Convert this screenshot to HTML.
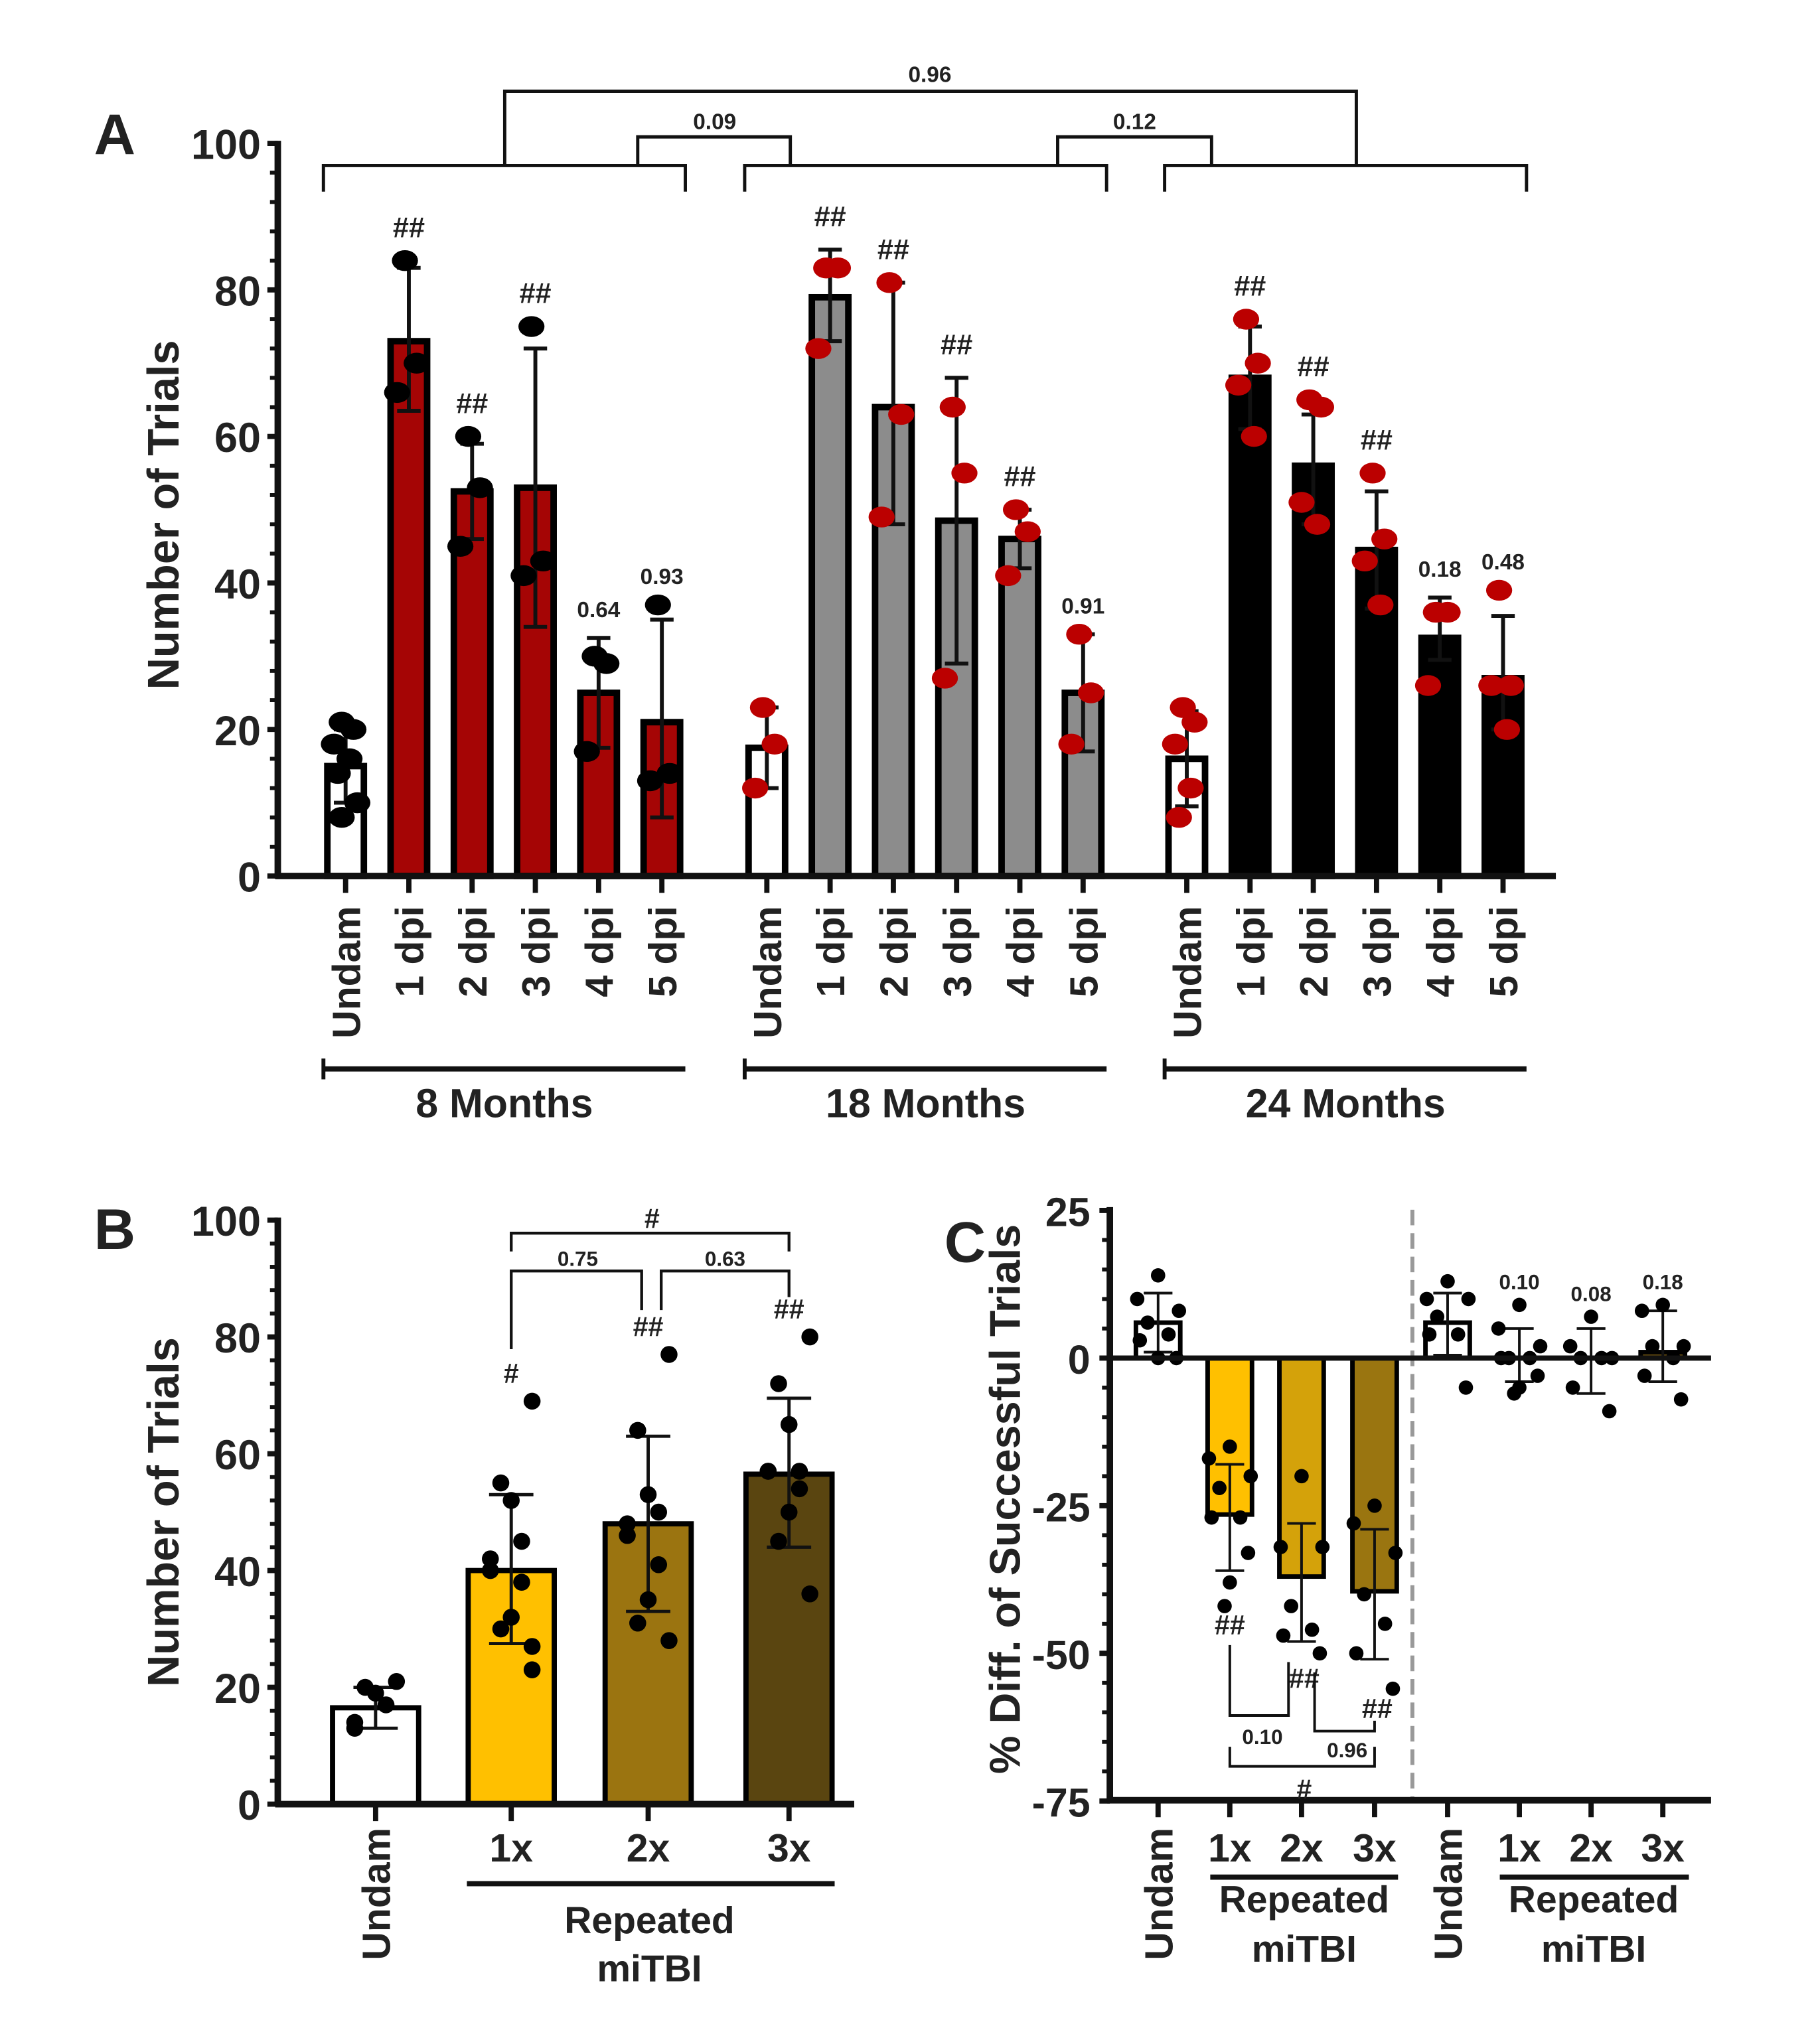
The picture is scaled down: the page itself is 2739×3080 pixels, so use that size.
<!DOCTYPE html>
<html><head><meta charset="utf-8"><style>
html,body{margin:0;padding:0;background:#fff;}
svg{display:block;font-family:"Liberation Sans",Arial,sans-serif;font-weight:bold;}
</style></head><body>
<svg id="fig" xmlns="http://www.w3.org/2000/svg" width="2739" height="3080" viewBox="0 0 1394 1568" preserveAspectRatio="none">
<rect width="1394" height="1568" fill="#fff"/>
</svg>
<script>
// ---- Panel A data ----
const aGroups = ["8 Months","18 Months","24 Months"];
const aCats = ["Undam","1 dpi","2 dpi","3 dpi","4 dpi","5 dpi"];
const aMeans = [[15,73,52.5,53,25,21],[17.5,79,64,48.5,46,25],[16,68,56,44.5,32.5,27]];
const aErrLo = [[10,63.5,46,34,17.5,8],[12,73,48,29,42,17],[9.5,61,48,36.5,29.5,20]];
const aErrHi = [[20,83,59,72,32.5,35],[23,85.5,81,68,50,33],[22.5,75,63,52.5,38,35.5]];
const aPts = [
 [[21,20,18,16,14,10,8],[84,70,66],[60,53,45],[75,43,41],[30,29,17],[37,14,13]],
 [[23,18,12],[83,83,72],[81,63,49],[64,55,27],[50,47,41],[33,25,18]],
 [[23,21,18,12,8],[76,70,67,60],[65,64,51,48],[55,46,43,37],[36,36,26],[39,26,26,20]]];
const aLabels = [["","##","##","##","0.64","0.93"],["","##","##","##","##","0.91"],["","##","##","##","0.18","0.48"]];
const aTicks = [0,20,40,60,80,100];
// ---- Panel B data ----
const bCats = ["Undam","1x","2x","3x"];
const bMeans = [16.5,40,48,56.5];
const bErrLo = [13,27.5,33,44];
const bErrHi = [20,53,63,69.5];
const bPts = [[21,20,19,17,14,13],[69,55,52,45,42,40,38,32,30,27,23],[77,64,53,50,48,46,41,35,31,28],[80,72,65,57,57,57,54,50,45,36]];
const bLabels = ["","#","##","##"];
const bTicks = [0,20,40,60,80,100];
// ---- Panel C data ----
const cCats = ["Undam","1x","2x","3x","Undam","1x","2x","3x"];
const cMeans = [6,-26.5,-37,-39.5,6,0,0,1];
const cErrLo = [1,-36,-48,-51,0.5,-4,-6,-4];
const cErrHi = [11,-18,-28,-29,11,5,5,8];
const cPts = [[14,10,8,6,4,3,0,0],[-15,-17,-20,-22,-27,-27,-33,-38,-42],[-20,-32,-32,-42,-46,-47,-50],[-25,-28,-33,-40,-45,-50,-56],
 [13,10,10,7,4,4,-5],[9,5,2,0,0,0,-3,-5,-6],[7,2,0,0,0,-5,-9],[9,8,2,2,0,-3,-7]];
const cLabels = ["","","","","","0.10","0.08","0.18"];
const cTicks = [25,0,-25,-50,-75];

const NS="http://www.w3.org/2000/svg";
const svg=document.getElementById('fig');
function mk(tag,at,par){const e=document.createElementNS(NS,tag);for(const k in at)e.setAttribute(k,at[k]);(par||svg).appendChild(e);return e;}
function txt(s,x,y,size,par,anchor,rot){const t=mk('text',{x:x,y:y,'font-size':size,'text-anchor':anchor||'middle',fill:'#222'},par);if(rot)t.setAttribute('transform','rotate(-90 '+x+' '+y+')');t.textContent=s;return t;}
function ln(x1,y1,x2,y2,w,par,col){return mk('line',{x1:x1,y1:y1,x2:x2,y2:y2,stroke:col||'#111','stroke-width':w},par);}
function jit(i,n){if(n<=1)return 0;return (i%2===0?-1:1)*((i%3)+1)*3;}

// ================= PANEL A =================
const gA=mk('g',{});


const yA=v=>672-v*5.62;
const aX0=[265,588,910], aStep=48.5;
const aFill=[['#fff','#a50505','#a50505','#a50505','#a50505','#a50505'],['#fff','#8c8c8c','#8c8c8c','#8c8c8c','#8c8c8c','#8c8c8c'],['#fff','#000','#000','#000','#000','#000']];
const aDot=['#000','#b00','#b00'];
let t=txt('A',88,118,44,gA);
t=txt('Number of Trials',137,395,34,gA,'middle',true);
for(let v=0;v<=100;v+=4){let l=ln(v%20===0?205:207,yA(v),213,yA(v),v%20===0?4:3,gA);}
aTicks.forEach(v=>{const e=txt(String(v),200,yA(v)+12,32,gA,'end');});
for(let g=0;g<3;g++){
 for(let i=0;i<6;i++){
  const cx=aX0[g]+i*aStep, m=aMeans[g][i];
  const r=mk('rect',{x:cx-14,y:yA(m),width:28,height:672-yA(m),fill:aFill[g][i],stroke:'#000','stroke-width':5},gA);
  
  
  const e1=ln(cx,yA(aErrLo[g][i]),cx,yA(aErrHi[g][i]),3,gA);
  ln(cx-9,yA(aErrHi[g][i]),cx+9,yA(aErrHi[g][i]),3,gA);ln(cx-9,yA(aErrLo[g][i]),cx+9,yA(aErrLo[g][i]),3,gA);
  aPts[g][i].forEach((p,k)=>{const d=mk('ellipse',{cx:cx+jit(k,aPts[g][i].length),cy:yA(p),rx:10,ry:8,fill:aDot[g]},gA);});
  const top=Math.max(aErrHi[g][i],...aPts[g][i]);
  if(aLabels[g][i]){const s=txt(aLabels[g][i],cx,yA(top)-(aLabels[g][i]==='##'?18:16),aLabels[g][i]==='##'?22:17,gA);}
  const tk=ln(cx,672,cx,685,4,gA);
  const xl=txt(aCats[i],cx+11,695,30,gA,'end',true);
 }
 const x1=aX0[g]-17,x2=aX0[g]+5*aStep+18;
 const gl=ln(x1,820,x2,820,4,gA);
 ln(x1,812,x1,828,3,gA);
 const gt=txt(aGroups[g],(x1+x2)/2,857,31,gA);
 const b=mk('path',{d:'M'+x1+' 147V127H'+x2+'V147',fill:'none',stroke:'#111','stroke-width':2.5},gA);
}
let ax=ln(213,108,213,674,5,gA);
ax=ln(211,672,1193,672,5,gA);
let br=mk('path',{d:'M489 127V105H606V127M811 127V105H929V127M387 127V70H1040V127',fill:'none',stroke:'#111','stroke-width':2.5},gA);
t=txt('0.09',548,99,17,gA);
t=txt('0.12',870,99,17,gA);
t=txt('0.96',713,63,17,gA);

// ================= PANEL B =================
const gB=mk('g',{});


const yB=v=>1384-v*4.48;
const bX=[288,392,497,605], bFill=['#fff','#ffc000','#9b7410','#5a4510'];
t=txt('B',88,958,44,gB);
t=txt('Number of Trials',137,1160,34,gB,'middle',true);
for(let v=0;v<=100;v+=4){let l=ln(v%20===0?205:207,yB(v),213,yB(v),v%20===0?4:3,gB);}
bTicks.forEach(v=>{const e=txt(String(v),200,yB(v)+12,32,gB,'end');});
bCats.forEach((c,i)=>{
 const cx=bX[i],m=bMeans[i];
 const r=mk('rect',{x:cx-33,y:yB(m),width:66,height:1384-yB(m),fill:bFill[i],stroke:'#000','stroke-width':4},gB);
 
 
 const e1=ln(cx,yB(bErrLo[i]),cx,yB(bErrHi[i]),2.5,gB);
 ln(cx-17,yB(bErrHi[i]),cx+17,yB(bErrHi[i]),2.5,gB);ln(cx-17,yB(bErrLo[i]),cx+17,yB(bErrLo[i]),2.5,gB);
 bPts[i].forEach((p,k)=>{const off=(k%5-2)*10*(k%2?1:-1)*0.8;const d=mk('circle',{cx:cx+off,cy:yB(p),r:6.5,fill:'#000'},gB);});
 if(bLabels[i]){const s=txt(bLabels[i],cx,yB(Math.max(...bPts[i]))-14,21,gB);}
 const tk=ln(cx,1384,cx,1397,4,gB);
 if(i===0){const xl=txt(c,cx+11,1402,30,gB,'end',true);}
 else{const xl=txt(c,cx,1428,30,gB);}
});
ax=ln(213,934,213,1386,5,gB);
ax=ln(211,1384,655,1384,5,gB);
t=ln(358,1445,640,1445,4,gB);
t=txt('Repeated',498,1483,29,gB);
t=txt('miTBI',498,1520,29,gB);
br=mk('path',{d:'M392 1035V975H492V1005M507 1005V975H605V995M392 960V946H605V960',fill:'none',stroke:'#111','stroke-width':2.2},gB);
t=txt('0.75',443,971,16,gB);
t=txt('0.63',556,971,16,gB);
t=txt('#',500,942,21,gB);

// ================= PANEL C =================
const gC=mk('g',{});


const yC=v=>1041.8-v*4.53;
const cX=[888,943,998,1054,1110,1165,1220,1275];
const cFill=['#fff','#ffc000','#d4a20a','#9a7510','#fff','#ffc000','#d4a20a','#6b5010'];
t=txt('C',740,968,44,gC);
t=txt('% Diff. of Successful Trials',782,1150,33,gC,'middle',true);
for(let v=-75;v<=25;v+=5){let l=ln(v%25===0?843:845,yC(v),851,yC(v),v%25===0?4:3,gC);}
cTicks.forEach(v=>{const e=txt(String(v),836,yC(v)+12,31,gC,'end');});
const dl=mk('line',{x1:1083,y1:928,x2:1083,y2:1381,stroke:'#999','stroke-width':3,'stroke-dasharray':'12 6'},gC);
cCats.forEach((c,i)=>{
 const cx=cX[i],m=cMeans[i];
 const y1=Math.min(yC(m),yC(0)),h=Math.abs(yC(m)-yC(0));
 const r=mk('rect',{x:cx-17,y:y1,width:34,height:h,fill:cFill[i],stroke:'#000','stroke-width':3.5},gC);
 
 
 const e1=ln(cx,yC(cErrLo[i]),cx,yC(cErrHi[i]),2,gC);
 ln(cx-11,yC(cErrHi[i]),cx+11,yC(cErrHi[i]),2,gC);ln(cx-11,yC(cErrLo[i]),cx+11,yC(cErrLo[i]),2,gC);
 cPts[i].forEach((p,k)=>{const off=[0,-16,16,-8,8,-14,14,0,-4][k%9];const d=mk('circle',{cx:cx+off,cy:yC(p),r:5.5,fill:'#000'},gC);});
 if(cLabels[i]){const s=txt(cLabels[i],cx,yC(Math.max(...cPts[i],cErrHi[i]))-12,16,gC);}
 const tk=ln(cx,1381,cx,1394,4,gC);
 if(c==='Undam'){const xl=txt(c,cx+11,1402,30,gC,'end',true);}
 else{const xl=txt(c,cx,1428,30,gC);}
});
[[943,'##',1254],[1000,'##',1295],[1056,'##',1318]].forEach(a=>{const s=txt(a[1],a[0],a[2],21,gC);});
ax=ln(851,926,851,1383,5,gC);
ax=ln(849,yC(0),1312,yC(0),4,gC);
ax=ln(849,1381,1312,1381,5,gC);
br=mk('path',{d:'M943 1262V1316H988V1275M1008 1283V1328H1054V1320M943 1340V1355H1054V1340',fill:'none',stroke:'#111','stroke-width':2},gC);
t=txt('0.10',968,1338,16,gC);
t=txt('0.96',1033,1348,16,gC);
t=txt('#',1000,1380,21,gC);
[[928,1072,1000],[1150,1295,1222]].forEach(g=>{
 const l=ln(g[0],1440,g[1],1440,4,gC);
 let a=txt('Repeated',g[2],1467,29,gC);
 a=txt('miTBI',g[2],1505,29,gC);
});
</script>
</body></html>
